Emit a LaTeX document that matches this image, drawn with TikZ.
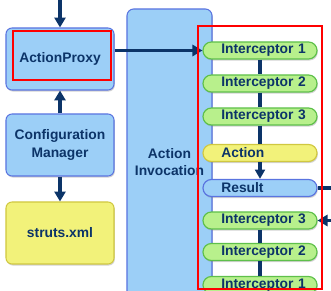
\documentclass[tikz,border=0pt]{standalone}
\usepackage{fontspec}
\setmainfont{Liberation Sans}
\usetikzlibrary{arrows.meta,shadows}

\definecolor{navy}{HTML}{0C3468}
\definecolor{boxblue}{HTML}{9CCFF7}
\definecolor{edgeblue}{HTML}{5A74E0}
\definecolor{boxgreen}{HTML}{B8F08C}
\definecolor{edgegreen}{HTML}{5EC04A}
\definecolor{boxyellow}{HTML}{F2F27A}
\definecolor{edgeyellow}{HTML}{D0C840}

\begin{document}
\begin{tikzpicture}[x=0.03cm, y=-0.03cm,
	font=\fontsize{11.8}{15}\selectfont\bfseries, text=navy,
	shadowed/.style={drop shadow={shadow xshift=0.7pt, shadow yshift=-1.3pt, opacity=0.35}},
	part/.style={draw, line width=0.9pt, rounded corners=0.18cm, minimum width=3.24cm,
		minimum height=1.86cm, align=center, shadowed},
	stage/.style={draw, line width=1pt, rounded corners=0.25cm, minimum height=0.51cm,
		inner xsep=0pt, inner ysep=0pt, text width=3.42cm, align=left,
		execute at begin node=\hspace*{0.55cm}, shadowed},
	flow/.style={navy, line width=3.2pt, -{Triangle[width=9.5pt,length=8.5pt]}},
	link/.style={navy, line width=2.8pt},
	redframe/.style={red, line width=1.7pt}]
	\useasboundingbox (0,0) rectangle (331,291);
	\clip (0,0) rectangle (331,291);

	% left column
	\node[part, fill=boxblue, draw=edgeblue] (proxy) at (60,59) {ActionProxy};
	\node[part, fill=boxblue, draw=edgeblue] (config) at (60,145) {Configuration\\Manager};
	\node[part, fill=boxyellow, draw=edgeyellow] (struts) at (60,233) {struts.xml};

	% invocation block, runs past the bottom edge
	\node[part, fill=boxblue, draw=edgeblue, rounded corners=0.2cm, minimum width=2.55cm,
		minimum height=9.18cm] (invoc) at (169.5,162) {Action\\Invocation};

	% interceptor stack
	\node[stage, fill=boxgreen, draw=edgegreen] (in1) at (260,50.5) {Interceptor 1};
	\node[stage, fill=boxgreen, draw=edgegreen] (in2) at (260,83.5) {Interceptor 2};
	\node[stage, fill=boxgreen, draw=edgegreen] (in3) at (260,116.5) {Interceptor 3};
	\node[stage, fill=boxyellow, draw=edgeyellow] (action) at (260,153) {Action};
	\node[stage, fill=boxblue, draw=edgeblue] (result) at (260,188) {Result};
	\node[stage, fill=boxgreen, draw=edgegreen] (out3) at (260,220.5) {Interceptor 3};
	\node[stage, fill=boxgreen, draw=edgegreen] (out2) at (260,252) {Interceptor 2};
	\node[stage, fill=boxgreen, draw=edgegreen] (out1) at (260,285) {Interceptor 1};

	\coordinate (req) at (60,-5);
	\coordinate (resp) at (342,188);
	\coordinate (back) at (342,220.5);

	\draw[flow] (req) -- (proxy.north);
	\draw[flow] (config) -- (proxy);
	\draw[flow] (config) -- (struts);
	\draw[flow] (proxy.east |- in1) -- (in1);

	\draw[link] (in1) -- (in2) -- (in3) -- (action);
	\draw[link, -{Triangle[width=8.5pt,length=8pt]}] (action) -- (result);
	\draw[link] (out3) -- (out2) -- (out1);
	\draw[flow] (result) -- (resp);
	\draw[flow] (back) -- (out3);

	% highlight frames
	\draw[redframe] (13,31) rectangle (111,80);
	\draw[redframe] (198,26) rectangle (322,289);
\end{tikzpicture}
\end{document}
